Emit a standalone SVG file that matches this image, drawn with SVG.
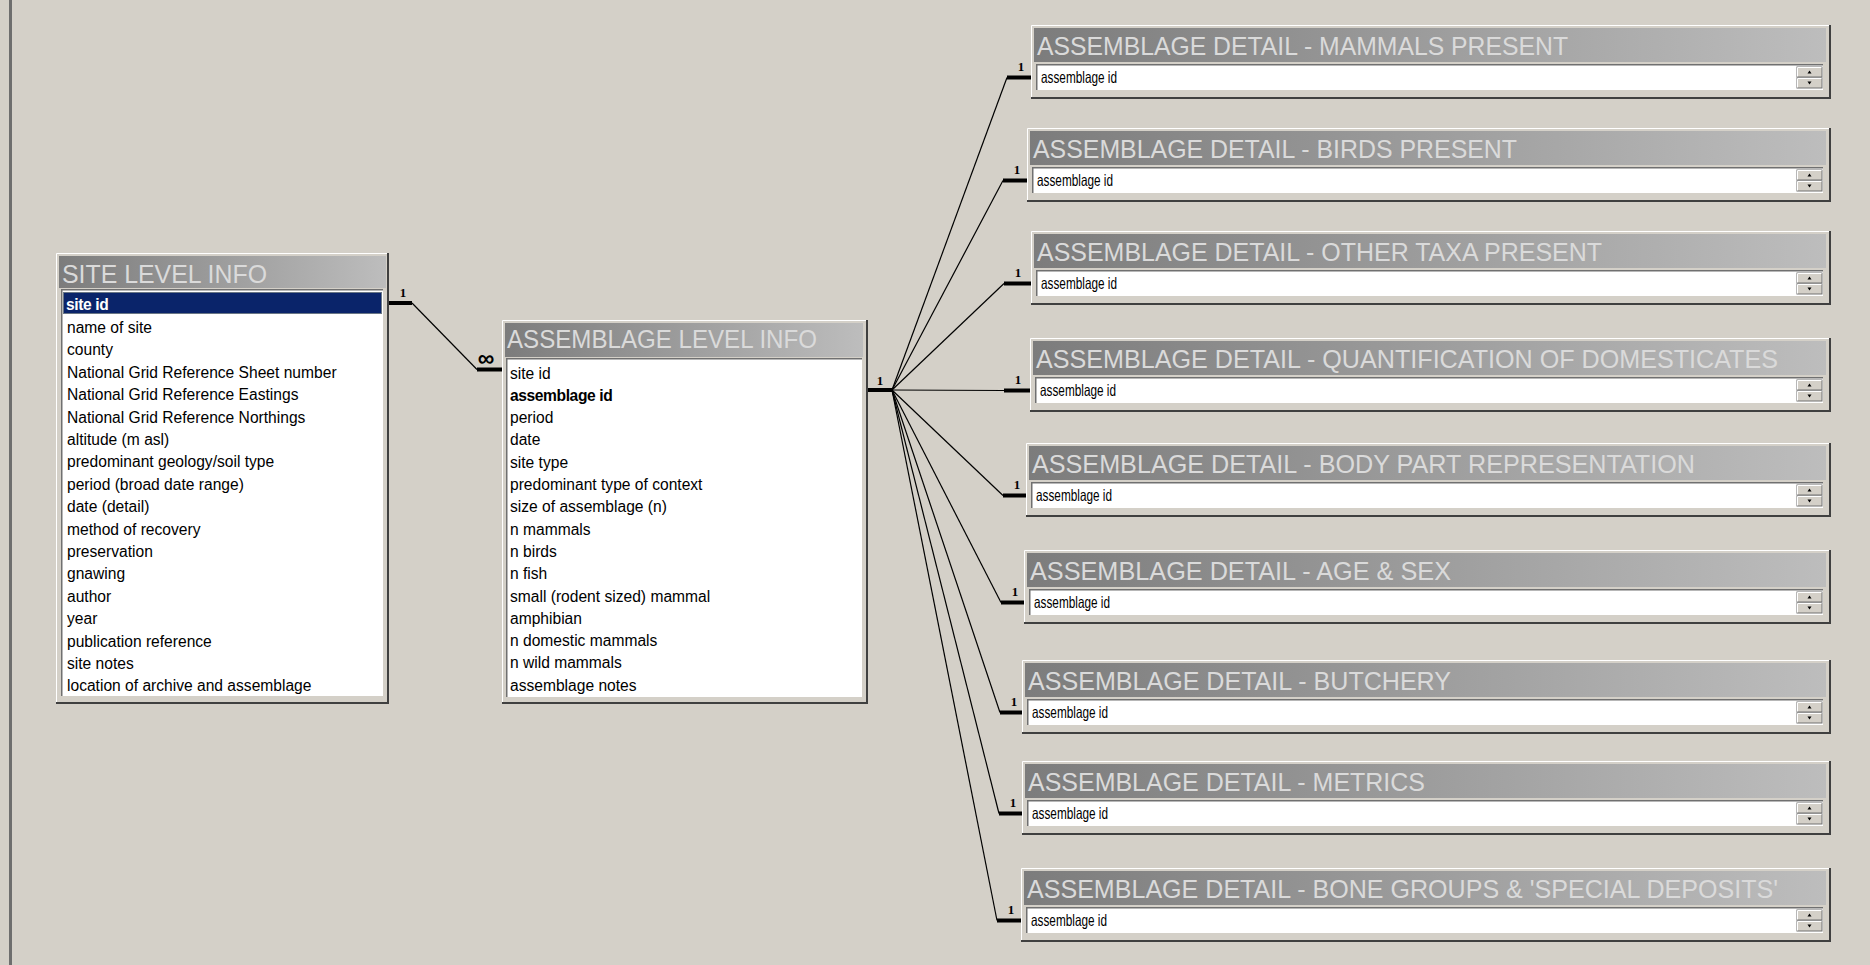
<svg xmlns="http://www.w3.org/2000/svg" width="1870" height="965" viewBox="0 0 1870 965">
<defs>
<linearGradient id="tg" x1="0" y1="0" x2="1" y2="0">
<stop offset="0" stop-color="#7c7c7c"/>
<stop offset="1" stop-color="#bdbdbd"/>
</linearGradient>
<g id="spin">
<rect x="0" y="0" width="25" height="10" fill="#d4d0c8" stroke="#707070" stroke-width="1"/>
<path d="M0.5,9.5 V0.5 H24.5" fill="none" stroke="#fff"/>
<path d="M10.5,6.5 L12.5,3.5 L14.5,6.5 Z" fill="#000"/>
<rect x="0" y="11" width="25" height="10" fill="#d4d0c8" stroke="#707070" stroke-width="1"/>
<path d="M0.5,20.5 V11.5 H24.5" fill="none" stroke="#fff"/>
<path d="M10.5,14.5 L12.5,17.5 L14.5,14.5 Z" fill="#000"/>
</g>
</defs>
<style>
.hi{fill:none;stroke:#ffffff;stroke-width:1}
.sh{fill:none;stroke:#404040;stroke-width:2}
.frame{fill:#d4d0c8}
.bar{fill:url(#tg)}
.title{font-family:"Liberation Sans",Arial,sans-serif;font-size:25px;fill:#dadada}
.dtitle{font-size:26.5px}
.list{fill:#ffffff}
.sunk{fill:none;stroke:#707070;stroke-width:1.5}
.row{font-family:"Liberation Sans",Arial,sans-serif;font-size:15.6px;fill:#000}
.field{font-size:16.5px}
.bold{font-weight:bold;letter-spacing:-0.4px}
.ln{stroke:#000;stroke-width:1.2;fill:none}
.stub{stroke:#000;stroke-width:4;fill:none}
.one{font-family:"Liberation Serif","Times New Roman",serif;font-size:13px;font-weight:bold;fill:#000;text-anchor:middle}
.inf{font-family:"Liberation Sans",Arial,sans-serif;font-size:23px;font-weight:bold;fill:#000;text-anchor:middle}
</style>
<rect x="0" y="0" width="1870" height="965" fill="#d4d0c8"/>
<rect x="9" y="0" width="3" height="965" fill="#6e6e6e"/>

<g id="connectors">
<line class="stub" x1="389" y1="303" x2="412" y2="303"/>
<line class="ln" x1="412" y1="303" x2="477" y2="369.5"/>
<line class="stub" x1="477" y1="369.5" x2="502" y2="369.5"/>
<text class="one" x="403" y="297">1</text>
<text class="inf" x="486" y="366">∞</text>

<line class="stub" x1="867" y1="390" x2="892" y2="390"/>
<text class="one" x="880" y="385">1</text>
<line class="ln" x1="892" y1="390" x2="1007" y2="77.5"/>
<line class="ln" x1="892" y1="390" x2="1003" y2="180.5"/>
<line class="ln" x1="892" y1="390" x2="1004" y2="283.5"/>
<line class="ln" x1="892" y1="390" x2="1004" y2="390.5"/>
<line class="ln" x1="892" y1="390" x2="1003" y2="495.5"/>
<line class="ln" x1="892" y1="390" x2="1001" y2="602.5"/>
<line class="ln" x1="892" y1="390" x2="1000" y2="712.5"/>
<line class="ln" x1="892" y1="390" x2="999" y2="813.5"/>
<line class="ln" x1="892" y1="390" x2="997" y2="920.5"/>
<line class="stub" x1="1007" y1="77.5" x2="1031" y2="77.5"/>
<line class="stub" x1="1003" y1="180.5" x2="1027" y2="180.5"/>
<line class="stub" x1="1004" y1="283.5" x2="1031" y2="283.5"/>
<line class="stub" x1="1004" y1="390.5" x2="1030" y2="390.5"/>
<line class="stub" x1="1003" y1="495.5" x2="1026" y2="495.5"/>
<line class="stub" x1="1001" y1="602.5" x2="1024" y2="602.5"/>
<line class="stub" x1="1000" y1="712.5" x2="1022" y2="712.5"/>
<line class="stub" x1="999" y1="813.5" x2="1022" y2="813.5"/>
<line class="stub" x1="997" y1="920.5" x2="1021" y2="920.5"/>
<text class="one" x="1021" y="71">1</text>
<text class="one" x="1017" y="174">1</text>
<text class="one" x="1018" y="277">1</text>
<text class="one" x="1018" y="384">1</text>
<text class="one" x="1017" y="489">1</text>
<text class="one" x="1015" y="596">1</text>
<text class="one" x="1014" y="706">1</text>
<text class="one" x="1013" y="807">1</text>
<text class="one" x="1011" y="914">1</text>
</g>

<g id="site-level-info">
<rect class="frame" x="56" y="253" width="333" height="451"/>
<path class="hi" d="M56.5,704 V253.5 H389"/>
<path class="sh" d="M388,253 V703 H56"/>
<rect class="bar" x="59" y="256" width="327" height="32"/>
<text class="title" x="62" y="283" textLength="205" lengthAdjust="spacingAndGlyphs">SITE LEVEL INFO</text>
<rect class="list" x="61" y="290" width="322" height="406"/>
<path class="sunk" d="M61.75,696 V289.75 H383"/>
<rect x="63" y="292" width="319" height="22" fill="#0a246a"/>
<rect x="63.5" y="292.5" width="318" height="21" fill="none" stroke="#c8c8a0" stroke-width="1" stroke-dasharray="1 1"/>
<text class="row bold" x="66" y="309.5" style="fill:#fff">site id</text>
<text class="row" x="67" y="332.9">name of site</text>
<text class="row" x="67" y="355.3">county</text>
<text class="row" x="67" y="377.7">National Grid Reference Sheet number</text>
<text class="row" x="67" y="400.1">National Grid Reference Eastings</text>
<text class="row" x="67" y="422.5">National Grid Reference Northings</text>
<text class="row" x="67" y="444.9">altitude (m asl)</text>
<text class="row" x="67" y="467.3">predominant geology/soil type</text>
<text class="row" x="67" y="489.7">period (broad date range)</text>
<text class="row" x="67" y="512.1">date (detail)</text>
<text class="row" x="67" y="534.5">method of recovery</text>
<text class="row" x="67" y="556.9">preservation</text>
<text class="row" x="67" y="579.3">gnawing</text>
<text class="row" x="67" y="601.7">author</text>
<text class="row" x="67" y="624.1">year</text>
<text class="row" x="67" y="646.5">publication reference</text>
<text class="row" x="67" y="668.9">site notes</text>
<text class="row" x="67" y="691.3">location of archive and assemblage</text>
</g>

<g id="assemblage-level-info">
<rect class="frame" x="502" y="320" width="366" height="384"/>
<path class="hi" d="M502.5,704 V320.5 H868"/>
<path class="sh" d="M867,320 V703 H502"/>
<rect class="bar" x="505" y="323" width="358" height="34"/>
<text class="title" x="507" y="348" textLength="310" lengthAdjust="spacingAndGlyphs">ASSEMBLAGE LEVEL INFO</text>
<rect class="list" x="506" y="359" width="356" height="338"/>
<path class="sunk" d="M506.75,697 V358.75 H862"/>
<text class="row" x="510" y="378.5">site id</text>
<text class="row bold" x="510" y="400.8">assemblage id</text>
<text class="row" x="510" y="423.1">period</text>
<text class="row" x="510" y="445.4">date</text>
<text class="row" x="510" y="467.7">site type</text>
<text class="row" x="510" y="490">predominant type of context</text>
<text class="row" x="510" y="512.3">size of assemblage (n)</text>
<text class="row" x="510" y="534.6">n mammals</text>
<text class="row" x="510" y="556.9">n birds</text>
<text class="row" x="510" y="579.2">n fish</text>
<text class="row" x="510" y="601.5">small (rodent sized) mammal</text>
<text class="row" x="510" y="623.8">amphibian</text>
<text class="row" x="510" y="646.1">n domestic mammals</text>
<text class="row" x="510" y="668.4">n wild mammals</text>
<text class="row" x="510" y="690.7">assemblage notes</text>
</g>

<g id="detail-mammals">
<rect class="frame" x="1031" y="25" width="800" height="74"/>
<path class="hi" d="M1031.5,99 V25.5 H1831"/>
<path class="sh" d="M1830,25 V98 H1031"/>
<rect class="bar" x="1034" y="28" width="792" height="34"/>
<text class="title dtitle" x="1037" y="55" textLength="531" lengthAdjust="spacingAndGlyphs">ASSEMBLAGE DETAIL - MAMMALS PRESENT</text>
<rect class="list" x="1036" y="65" width="787" height="25"/>
<path class="sunk" d="M1036.75,90 V64.75 H1823"/>
<text class="row field" x="1041" y="83" textLength="76" lengthAdjust="spacingAndGlyphs">assemblage id</text>
<use href="#spin" x="1797" y="67"/>
</g>

<g id="detail-birds">
<rect class="frame" x="1027" y="128" width="804" height="74"/>
<path class="hi" d="M1027.5,202 V128.5 H1831"/>
<path class="sh" d="M1830,128 V201 H1027"/>
<rect class="bar" x="1030" y="131" width="796" height="34"/>
<text class="title dtitle" x="1033" y="158" textLength="484" lengthAdjust="spacingAndGlyphs">ASSEMBLAGE DETAIL - BIRDS PRESENT</text>
<rect class="list" x="1032" y="168" width="791" height="25"/>
<path class="sunk" d="M1032.75,193 V167.75 H1823"/>
<text class="row field" x="1037" y="186" textLength="76" lengthAdjust="spacingAndGlyphs">assemblage id</text>
<use href="#spin" x="1797" y="170"/>
</g>

<g id="detail-other-taxa">
<rect class="frame" x="1031" y="231" width="800" height="74"/>
<path class="hi" d="M1031.5,305 V231.5 H1831"/>
<path class="sh" d="M1830,231 V304 H1031"/>
<rect class="bar" x="1034" y="234" width="792" height="34"/>
<text class="title dtitle" x="1037" y="261" textLength="565" lengthAdjust="spacingAndGlyphs">ASSEMBLAGE DETAIL - OTHER TAXA PRESENT</text>
<rect class="list" x="1036" y="271" width="787" height="25"/>
<path class="sunk" d="M1036.75,296 V270.75 H1823"/>
<text class="row field" x="1041" y="289" textLength="76" lengthAdjust="spacingAndGlyphs">assemblage id</text>
<use href="#spin" x="1797" y="273"/>
</g>

<g id="detail-quantification">
<rect class="frame" x="1030" y="338" width="801" height="74"/>
<path class="hi" d="M1030.5,412 V338.5 H1831"/>
<path class="sh" d="M1830,338 V411 H1030"/>
<rect class="bar" x="1033" y="341" width="793" height="34"/>
<text class="title dtitle" x="1036" y="368" textLength="742" lengthAdjust="spacingAndGlyphs">ASSEMBLAGE DETAIL - QUANTIFICATION OF DOMESTICATES</text>
<rect class="list" x="1035" y="378" width="788" height="25"/>
<path class="sunk" d="M1035.75,403 V377.75 H1823"/>
<text class="row field" x="1040" y="396" textLength="76" lengthAdjust="spacingAndGlyphs">assemblage id</text>
<use href="#spin" x="1797" y="380"/>
</g>

<g id="detail-body-part">
<rect class="frame" x="1026" y="443" width="805" height="74"/>
<path class="hi" d="M1026.5,517 V443.5 H1831"/>
<path class="sh" d="M1830,443 V516 H1026"/>
<rect class="bar" x="1029" y="446" width="797" height="34"/>
<text class="title dtitle" x="1032" y="473" textLength="663" lengthAdjust="spacingAndGlyphs">ASSEMBLAGE DETAIL - BODY PART REPRESENTATION</text>
<rect class="list" x="1031" y="483" width="792" height="25"/>
<path class="sunk" d="M1031.75,508 V482.75 H1823"/>
<text class="row field" x="1036" y="501" textLength="76" lengthAdjust="spacingAndGlyphs">assemblage id</text>
<use href="#spin" x="1797" y="485"/>
</g>

<g id="detail-age-sex">
<rect class="frame" x="1024" y="550" width="807" height="74"/>
<path class="hi" d="M1024.5,624 V550.5 H1831"/>
<path class="sh" d="M1830,550 V623 H1024"/>
<rect class="bar" x="1027" y="553" width="799" height="34"/>
<text class="title dtitle" x="1030" y="580" textLength="421" lengthAdjust="spacingAndGlyphs">ASSEMBLAGE DETAIL - AGE &amp; SEX</text>
<rect class="list" x="1029" y="590" width="794" height="25"/>
<path class="sunk" d="M1029.75,615 V589.75 H1823"/>
<text class="row field" x="1034" y="608" textLength="76" lengthAdjust="spacingAndGlyphs">assemblage id</text>
<use href="#spin" x="1797" y="592"/>
</g>

<g id="detail-butchery">
<rect class="frame" x="1022" y="660" width="809" height="74"/>
<path class="hi" d="M1022.5,734 V660.5 H1831"/>
<path class="sh" d="M1830,660 V733 H1022"/>
<rect class="bar" x="1025" y="663" width="801" height="34"/>
<text class="title dtitle" x="1028" y="690" textLength="423" lengthAdjust="spacingAndGlyphs">ASSEMBLAGE DETAIL - BUTCHERY</text>
<rect class="list" x="1027" y="700" width="796" height="25"/>
<path class="sunk" d="M1027.75,725 V699.75 H1823"/>
<text class="row field" x="1032" y="718" textLength="76" lengthAdjust="spacingAndGlyphs">assemblage id</text>
<use href="#spin" x="1797" y="702"/>
</g>

<g id="detail-metrics">
<rect class="frame" x="1022" y="761" width="809" height="74"/>
<path class="hi" d="M1022.5,835 V761.5 H1831"/>
<path class="sh" d="M1830,761 V834 H1022"/>
<rect class="bar" x="1025" y="764" width="801" height="34"/>
<text class="title dtitle" x="1028" y="791" textLength="397" lengthAdjust="spacingAndGlyphs">ASSEMBLAGE DETAIL - METRICS</text>
<rect class="list" x="1027" y="801" width="796" height="25"/>
<path class="sunk" d="M1027.75,826 V800.75 H1823"/>
<text class="row field" x="1032" y="819" textLength="76" lengthAdjust="spacingAndGlyphs">assemblage id</text>
<use href="#spin" x="1797" y="803"/>
</g>

<g id="detail-bone-groups">
<rect class="frame" x="1021" y="868" width="810" height="74"/>
<path class="hi" d="M1021.5,942 V868.5 H1831"/>
<path class="sh" d="M1830,868 V941 H1021"/>
<rect class="bar" x="1024" y="871" width="802" height="34"/>
<text class="title dtitle" x="1027" y="898" textLength="751" lengthAdjust="spacingAndGlyphs">ASSEMBLAGE DETAIL - BONE GROUPS &amp; 'SPECIAL DEPOSITS'</text>
<rect class="list" x="1026" y="908" width="797" height="25"/>
<path class="sunk" d="M1026.75,933 V907.75 H1823"/>
<text class="row field" x="1031" y="926" textLength="76" lengthAdjust="spacingAndGlyphs">assemblage id</text>
<use href="#spin" x="1797" y="910"/>
</g>
</svg>
